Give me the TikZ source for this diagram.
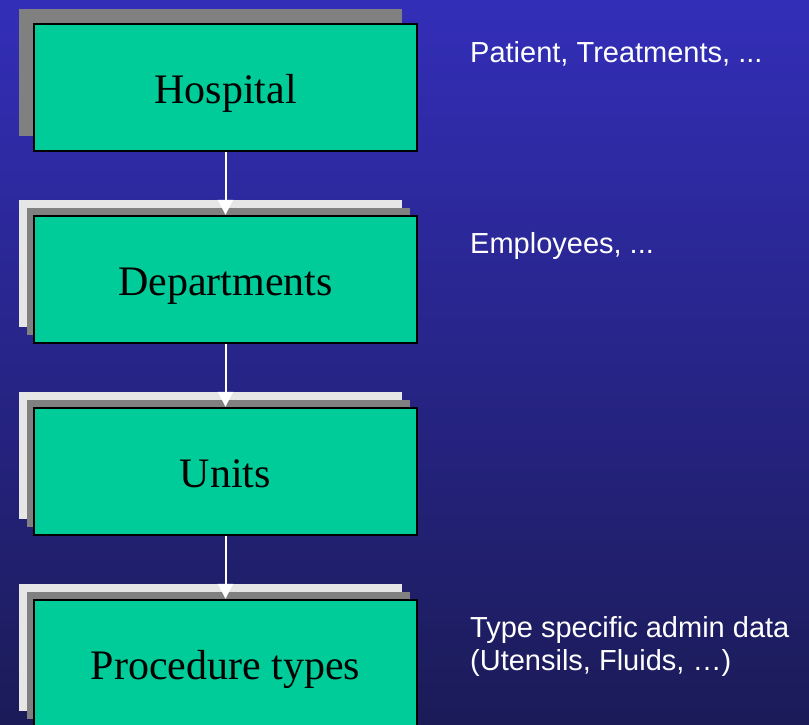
\documentclass[tikz,border=0pt]{standalone}
\usepackage{fontspec}
\setmainfont{Liberation Serif}
\newfontfamily\notefont{Liberation Sans}
\usepackage{tikz}
\usetikzlibrary{arrows.meta,positioning,shadows}
\definecolor{boxgreen}{RGB}{0,204,153}
\definecolor{shadegray}{RGB}{128,128,128}
\definecolor{shadewhite}{RGB}{230,230,230}
\definecolor{bgtop}{RGB}{51,46,184}
\definecolor{bgbottom}{RGB}{27,27,88}

\begin{document}
\begin{tikzpicture}[x=1pt,y=-1pt,>={Triangle[width=15pt,length=15pt]},node distance=62.6pt,
  level node/.style={rectangle,fill=boxgreen,draw=black,line width=2.4pt,minimum width=383pt,minimum height=127pt,inner sep=0pt,
    text height=32pt,text depth=0pt,font=\fontsize{42}{48}\selectfont},
  top shadow/.style={general shadow={shadow xshift=-15pt,shadow yshift=15pt,fill=shadegray}},
  stack shadow/.style={general shadow={shadow xshift=-15pt,shadow yshift=16pt,fill=shadewhite},
    general shadow={shadow xshift=-7pt,shadow yshift=8pt,fill=shadegray}},
  note/.style={text=white,inner sep=0pt,font=\notefont\fontsize{29}{33}\selectfont}]
  \useasboundingbox (0,0) rectangle (809,724);
  \clip (0,0) rectangle (809,724);
  \shade[top color=bgtop,bottom color=bgbottom] (0,0) rectangle (809,724);

  \node[level node,top shadow] (hospital) at (225.5,87.5) {Hospital};
  \node[level node,stack shadow] (departments) [below=of hospital] {Departments};
  \node[level node,stack shadow] (units) [below=of departments] {Units};
  \node[level node,stack shadow] (proctypes) [below=of units] {Procedure types};

  \node[note,anchor=base west] (hospnote) at (470,62) {Patient, Treatments, ...};
  \node[note,anchor=base west] (deptnote) at (470,253) {Employees, ...};
  \node[note,anchor=base west,align=left] (procnote) at (470,670.5) {Type specific admin data\\(Utensils, Fluids, …)};

  \path[->,white,line width=2pt]
    (hospital) edge (departments)
    (departments) edge (units)
    (units) edge (proctypes);
\end{tikzpicture}
\end{document}
